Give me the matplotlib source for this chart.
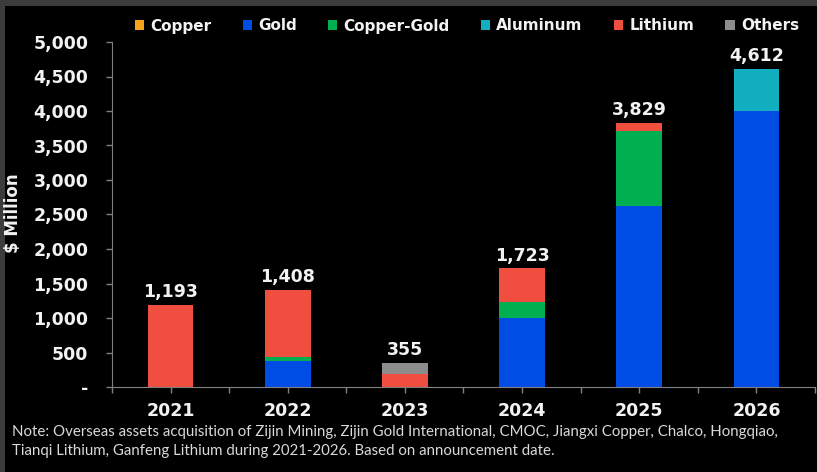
import numpy as np
import matplotlib
matplotlib.use("Agg")
import matplotlib.pyplot as plt
from matplotlib.patches import Rectangle, Patch

# Data ($ Million)
years = ["2021", "2022", "2023", "2024", "2025", "2026"]
copper = [0, 0, 0, 0, 0, 0]
gold = [0, 370, 0, 1000, 2620, 4000]
copper_gold = [0, 70, 0, 235, 1096, 0]
aluminum = [0, 0, 0, 0, 0, 612]
lithium = [1193, 968, 195, 488, 113, 0]
others = [0, 0, 160, 0, 0, 0]
totals = [1193, 1408, 355, 1723, 3829, 4612]

series = [
    ("Copper", copper, "#F7A21B"),
    ("Gold", gold, "#004DE6"),
    ("Copper-Gold", copper_gold, "#00AF50"),
    ("Aluminum", aluminum, "#12AFC0"),
    ("Lithium", lithium, "#F04E3E"),
    ("Others", others, "#8C8C8C"),
]

W, H = 817, 472
fig = plt.figure(figsize=(W / 100, H / 100), dpi=100, facecolor="#3c3c3c")
# black panel inside the grey frame (frame on top and left only)
fig.patches.append(Rectangle((5 / W, 0), 1, 1 - 6 / H, transform=fig.transFigure,
                             facecolor="black", edgecolor="none", zorder=-1))

ax = fig.add_axes([112 / W, 1 - 387 / H, (815 - 112) / W, (387 - 42) / H])
ax.set_facecolor("none")
ax.set_zorder(1)

x = np.arange(len(years))
bottom = np.zeros(len(years))
for name, vals, col in series:
    vals = np.asarray(vals, dtype=float)
    ax.bar(x, vals, width=0.39, bottom=bottom, color=col, label=name, zorder=2)
    bottom += vals

for xi, t in zip(x, totals):
    ax.annotate(f"{t:,}", (xi, t), xytext=(0, 2.5), textcoords="offset points",
                ha="center", va="bottom", color="#f2f2f2", fontsize=12.5,
                fontweight="bold")

ax.set_xlim(-0.5, len(years) - 0.5)
ax.set_ylim(0, 5000)
ax.set_yticks(np.arange(0, 5001, 500))
ax.set_yticklabels(["-"] + [f"{v:,}" for v in range(500, 5001, 500)])
ax.set_xticks(x)
ax.set_xticklabels(years)
ax.set_xticks(np.arange(-0.5, len(years), 1.0), minor=True)
ax.tick_params(axis="both", which="both", colors="#808080", length=4, width=1,
               labelcolor="#f2f2f2", labelsize=12.5)
ax.tick_params(axis="y", pad=13)
ax.tick_params(axis="x", pad=7)
for lab in ax.get_xticklabels() + ax.get_yticklabels():
    lab.set_fontweight("bold")

for s in ["top", "right"]:
    ax.spines[s].set_visible(False)
for s in ["left", "bottom"]:
    ax.spines[s].set_color("#808080")

fig.text(13 / W, 1 - 213 / H, "$ Million", rotation=90, ha="center", va="center",
         color="#f2f2f2", fontsize=12, fontweight="bold")

handles = [Patch(facecolor=c, edgecolor="none", label=n) for n, _, c in series]
leg = fig.legend(handles=handles, loc="center", bbox_to_anchor=(467 / W, 1 - 26 / H),
                 ncol=6, frameon=False, handlelength=0.6, handleheight=0.6,
                 handletextpad=0.4, columnspacing=2.05,
                 prop={"weight": "bold", "size": 11})
for t in leg.get_texts():
    t.set_color("#f2f2f2")

note = ("Note: Overseas assets acquisition of Zijin Mining, Zijin Gold International, CMOC, "
        "Jiangxi Copper, Chalco, Hongqiao,\nTianqi Lithium, Ganfeng Lithium during 2021-2026. "
        "Based on announcement date.")
fig.text(12 / W, 1 - 425 / H, note, ha="left", va="top", color="#d9d9d9",
         fontsize=10.8, family=["Lato", "DejaVu Sans"], linespacing=1.45)

fig.savefig("out.png", dpi=100, facecolor=fig.get_facecolor())
